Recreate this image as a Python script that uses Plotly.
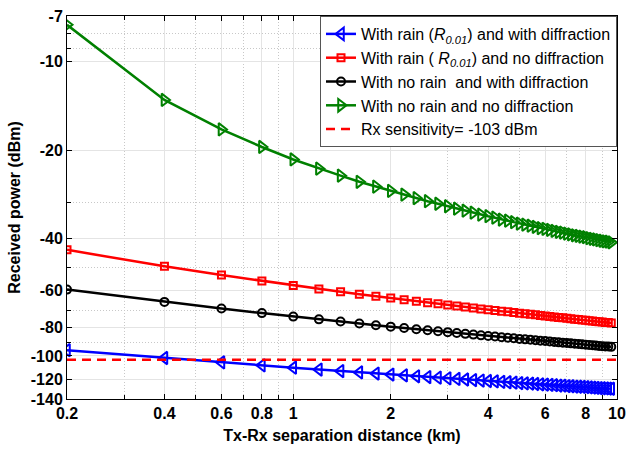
import plotly.graph_objects as go

# Tx-Rx separation distance (km)
distance_km = [0.2, 0.4, 0.6, 0.8, 1.0, 1.2, 1.4, 1.6, 1.8, 2.0,
               2.2, 2.4, 2.6, 2.8, 3.0, 3.2, 3.4, 3.6, 3.8, 4.0,
               4.2, 4.4, 4.6, 4.8, 5.0, 5.2, 5.4, 5.6, 5.8, 6.0,
               6.2, 6.4, 6.6, 6.8, 7.0, 7.2, 7.4, 7.6, 7.8, 8.0,
               8.2, 8.4, 8.6, 8.8, 9.0, 9.2, 9.4, 9.6]

# Received power (dBm) for each scenario
rain_with_diff = [-95.6, -101.6, -105.1, -107.6, -109.6, -111.2, -112.5, -113.7, -114.7, -115.6,
                  -116.4, -117.2, -117.9, -118.5, -119.1, -119.7, -120.2, -120.7, -121.2, -121.6,
                  -122.0, -122.5, -122.8, -123.2, -123.6, -123.9, -124.2, -124.5, -124.9, -125.1,
                  -125.4, -125.7, -126.0, -126.2, -126.5, -126.7, -127.0, -127.2, -127.4, -127.6,
                  -127.9, -128.1, -128.3, -128.5, -128.7, -128.9, -129.0, -129.2]
rain_no_diff = [-43.6, -49.6, -53.1, -55.6, -57.6, -59.2, -60.5, -61.7, -62.7, -63.6,
                -64.4, -65.2, -65.9, -66.5, -67.1, -67.7, -68.2, -68.7, -69.2, -69.6,
                -70.0, -70.5, -70.8, -71.2, -71.6, -71.9, -72.2, -72.5, -72.9, -73.1,
                -73.4, -73.7, -74.0, -74.2, -74.5, -74.7, -75.0, -75.2, -75.4, -75.6,
                -75.9, -76.1, -76.3, -76.5, -76.7, -76.9, -77.0, -77.2]
norain_with_diff = [-59.5, -65.5, -69.0, -71.5, -73.5, -75.1, -76.4, -77.6, -78.6, -79.5,
                    -80.3, -81.1, -81.8, -82.4, -83.0, -83.6, -84.1, -84.6, -85.1, -85.5,
                    -85.9, -86.4, -86.7, -87.1, -87.5, -87.8, -88.1, -88.4, -88.8, -89.0,
                    -89.3, -89.6, -89.9, -90.1, -90.4, -90.6, -90.9, -91.1, -91.3, -91.5,
                    -91.8, -92.0, -92.2, -92.4, -92.6, -92.8, -92.9, -93.1]
norain_no_diff = [-7.5, -13.5, -17.0, -19.5, -21.5, -23.1, -24.4, -25.6, -26.6, -27.5,
                  -28.3, -29.1, -29.8, -30.4, -31.0, -31.6, -32.1, -32.6, -33.1, -33.5,
                  -33.9, -34.4, -34.7, -35.1, -35.5, -35.8, -36.1, -36.4, -36.8, -37.0,
                  -37.3, -37.6, -37.9, -38.1, -38.4, -38.6, -38.9, -39.1, -39.3, -39.5,
                  -39.8, -40.0, -40.2, -40.4, -40.6, -40.8, -40.9, -41.1]

sensitivity_x = [0.2, 10]
sensitivity_dbm = [-103, -103]

x_ticks = [0.2, 0.4, 0.6, 0.8, 1, 2, 4, 6, 8, 10]
x_ticktext = ["0.2", "0.4", "0.6", "0.8", "1", "2", "4", "6", "8", "10"]
x_minor = [0.3, 0.5, 0.7, 0.9, 3, 5, 7, 9]

y_ticks_dbm = [-7, -10, -20, -40, -60, -80, -100, -120, -140]
y_minor_dbm = [-8, -9, -30, -50, -70, -90]

FONT = "Arial, 'Liberation Sans', Helvetica, sans-serif"


def mag(vals):
    # the power axis is logarithmic in |P|, so plot magnitudes
    return [-v for v in vals]


series = [
    ("With rain (<i>R</i><sub><i>0.01</i></sub>) and with diffraction",
     rain_with_diff, "#0000ff", "triangle-left-open", 11),
    ("With rain ( <i>R</i><sub><i>0.01</i></sub>) and no diffraction",
     rain_no_diff, "#ff0000", "square-open", 7),
    ("With no rain \u00a0and with diffraction",
     norain_with_diff, "#000000", "circle-open", 8),
    ("With no rain and no diffraction",
     norain_no_diff, "#008000", "triangle-right-open", 11),
]

fig = go.Figure()
for name, vals, color, symbol, size in series:
    fig.add_trace(go.Scatter(
        x=distance_km, y=mag(vals), name=name, mode="lines+markers",
        line=dict(color=color, width=2.5),
        marker=dict(symbol=symbol, size=size, color=color,
                    line=dict(color=color, width=2)),
    ))

fig.add_trace(go.Scatter(
    x=sensitivity_x, y=mag(sensitivity_dbm), name="Rx sensitivity= -103 dBm",
    mode="lines", line=dict(color="#ff0000", width=2.5, dash="9px,6px"),
))

fig.update_layout(
    width=634, height=450,
    margin=dict(l=67, r=8, t=14, b=51),
    paper_bgcolor="white", plot_bgcolor="white",
    font=dict(family=FONT, color="black"),
    showlegend=True,
    legend=dict(
        x=1, y=1, xanchor="right", yanchor="top",
        bgcolor="white", bordercolor="#555555", borderwidth=1,
        font=dict(family=FONT, size=16, color="black"),
        itemwidth=30, tracegroupgap=0,
    ),
)

fig.update_xaxes(
    type="log", range=[-0.69897, 1.0],
    tickvals=x_ticks, ticktext=["<b>%s</b>" % t for t in x_ticktext],
    tickfont=dict(family=FONT, size=16, color="black", weight="bold"),
    ticks="inside", ticklen=5, tickcolor="black",
    showline=True, linecolor="black", linewidth=1, mirror="ticks",
    showgrid=True, gridcolor="#e4e4e4", gridwidth=1,
    zeroline=False,
    minor=dict(tickvals=x_minor, ticks="inside", ticklen=4, tickcolor="black",
               showgrid=True, gridcolor="#c8c8c8", griddash="1px,2px", gridwidth=1),
    title=dict(text="<b>Tx-Rx separation distance (km)</b>",
               font=dict(family=FONT, size=16, color="black"), standoff=8),
)

fig.update_yaxes(
    type="log", range=[2.146128, 0.845098],
    tickvals=mag(y_ticks_dbm), ticktext=["<b>%d</b>" % v for v in y_ticks_dbm],
    tickfont=dict(family=FONT, size=16, color="black", weight="bold"),
    ticks="inside", ticklen=5, tickcolor="black",
    showline=True, linecolor="black", linewidth=1, mirror="ticks",
    showgrid=True, gridcolor="#e4e4e4", gridwidth=1,
    zeroline=False,
    minor=dict(tickvals=mag(y_minor_dbm), ticks="inside", ticklen=4, tickcolor="black",
               showgrid=True, gridcolor="#c8c8c8", griddash="1px,2px", gridwidth=1),
    title=dict(text="<b>Received power (dBm)</b>",
               font=dict(family=FONT, size=16, color="black"), standoff=6),
)

fig.write_html("out.html")
